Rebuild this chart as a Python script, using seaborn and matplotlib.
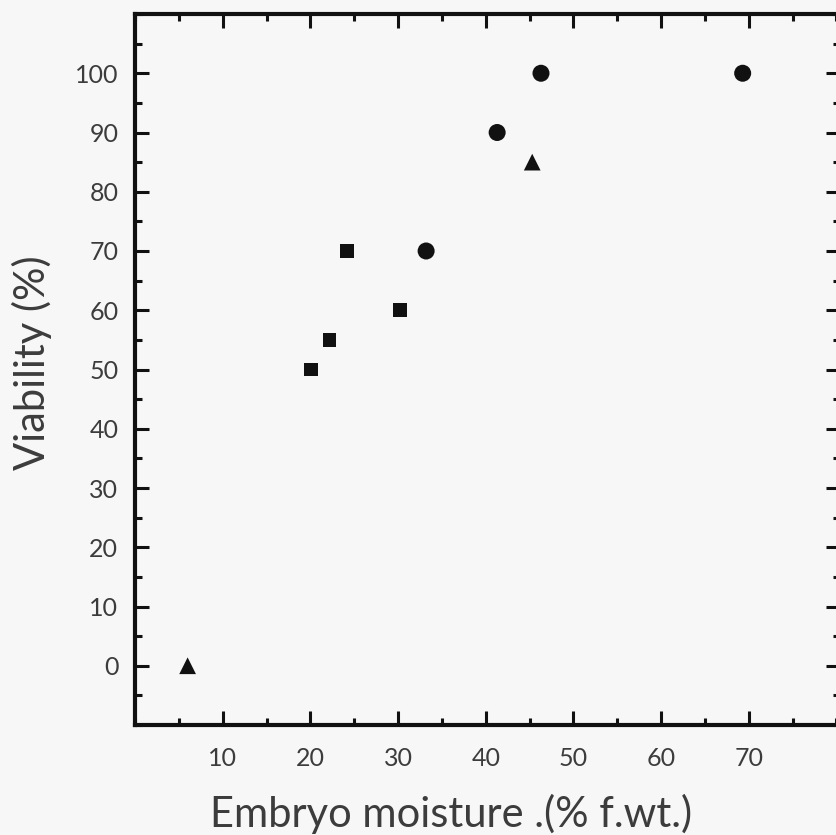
import matplotlib
matplotlib.use("Agg")
import matplotlib.pyplot as plt
import seaborn as sns
import pandas as pd
from matplotlib.ticker import MultipleLocator

# data
tri_x = [6.0, 45.3]
tri_y = [0, 85]
sq_x = [20.1, 22.2, 24.2, 30.2]
sq_y = [50, 55, 70, 60]
circ_x = [33.2, 41.3, 46.3, 69.3]
circ_y = [70, 90, 100, 100]

x_ticks = [10, 20, 30, 40, 50, 60, 70]
y_ticks = [0, 10, 20, 30, 40, 50, 60, 70, 80, 90, 100]

sns.set_style("ticks")
plt.rcParams['font.family'] = ['Lato', 'DejaVu Sans']
bg = '#f7f7f7'
txt = '#3c3c3c'

fig = plt.figure(figsize=(8.36, 8.35), dpi=100, facecolor=bg)
ax = fig.add_axes([135 / 836, 110 / 835, 705 / 836, 711 / 835])
ax.set_facecolor(bg)

sns.scatterplot(x=tri_x, y=tri_y, marker='^', s=145, color='#111111', edgecolor='none', ax=ax)
sns.scatterplot(x=sq_x, y=sq_y, marker='s', s=95, color='#111111', edgecolor='none', ax=ax)
sns.scatterplot(x=circ_x, y=circ_y, marker='o', s=150, color='#111111', edgecolor='none', ax=ax)

ax.set_xlim(0, 80.4)
ax.set_ylim(-10, 110)
ax.set_xticks(x_ticks)
ax.set_yticks(y_ticks)
ax.xaxis.set_minor_locator(MultipleLocator(5))
ax.yaxis.set_minor_locator(MultipleLocator(5))

for s in ax.spines.values():
    s.set_linewidth(3)
    s.set_color('#111111')

ax.tick_params(which='both', direction='in', top=True, right=True, color='#111111', width=2.2,
               labelcolor=txt, labelsize=18)
ax.tick_params(which='major', length=10)
ax.tick_params(which='minor', length=5)
ax.tick_params(axis='x', which='major', pad=16)
ax.tick_params(axis='y', which='major', pad=12)

ax.set_xlabel('Embryo moisture .(% f.wt.)', fontsize=30, color=txt)
ax.set_ylabel('Viability (%)', fontsize=30, color=txt)
ax.xaxis.set_label_coords(0.448, -0.097)
ax.yaxis.set_label_coords(-0.118, 0.51)

fig.savefig('out.png', dpi=100, facecolor=bg)
